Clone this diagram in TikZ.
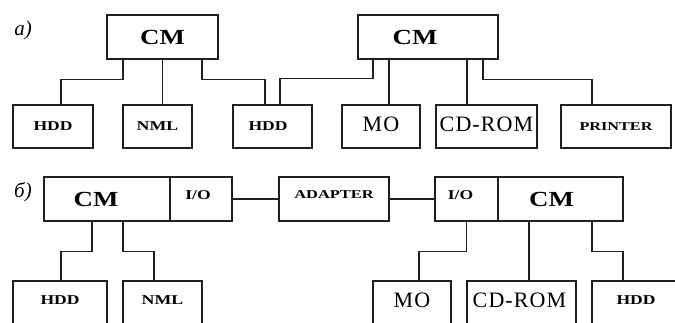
\documentclass[tikz,border=0pt]{standalone}
\usepackage{fontspec}
\setmainfont{Liberation Serif}
\usepackage{graphicx}
\newcommand{\bl}[3]{{\fontsize{#1}{#1}\selectfont\bfseries\scalebox{#2}[1]{#3}}}
\newcommand{\rg}[1]{{\fontsize{22}{22}\selectfont\addfontfeatures{LetterSpace=5}#1}}
\newcommand{\itl}[1]{{\fontsize{21}{21}\selectfont\itshape #1}}
\begin{document}
\begin{tikzpicture}[x=1pt,y=-1pt,
  box/.style={draw=black!88, line width=1.4pt, rectangle, inner sep=0pt, fill=white},
  wire/.style={draw=black!88, line width=1.4pt}]
\clip (0,0) rectangle (675,322);
\fill[white] (0,0) rectangle (675,322);
% part a
\node (la) at (23,30) {\itl{a)}};
\node[box, minimum width=111pt, minimum height=44pt] (cmA) at (162.5,37) {\bl{21.5}{1.25}{CM}};
\node[box, minimum width=140pt, minimum height=44pt] (cmB) at (428,37) {\bl{21.5}{1.25}{CM}\hspace*{26pt}};
\node[box, minimum width=80pt, minimum height=43pt] (hddA) at (53,126.5) {\bl{13.5}{1.3}{HDD}};
\node[box, minimum width=69pt, minimum height=43pt] (nmlA) at (157.5,126.5) {\bl{13.5}{1.32}{NML}};
\node[box, minimum width=79pt, minimum height=43pt] (hddB) at (272.5,126.5) {\bl{13.5}{1.3}{HDD}\hspace*{9pt}};
\node[box, minimum width=78pt, minimum height=43pt, text depth=4pt] (moA) at (381,126.5) {\rg{MO}};
\node[box, minimum width=101pt, minimum height=43pt, text depth=4pt] (cdA) at (486.5,126.5) {\rg{CD-ROM}};
\node[box, minimum width=110pt, minimum height=43pt] (prA) at (616,126.5) {\bl{12}{1.35}{PRINTER}};
% part b
\node (lb) at (23,192) {\itl{б)}};
\node[box, minimum width=126pt, minimum height=44pt] (cmC) at (107,199) {\bl{21.5}{1.25}{CM}\hspace*{22pt}};
\node[box, minimum width=62pt, minimum height=44pt, text depth=8pt] (ioC) at (201,199) {\bl{13.5}{1.3}{I/O}\hspace*{6pt}};
\node[box, minimum width=110pt, minimum height=44pt, text depth=9pt] (adC) at (334,199) {\bl{12}{1.37}{ADAPTER}};
\node[box, minimum width=63pt, minimum height=44pt, text depth=8pt] (ioD) at (466.5,199) {\bl{13.5}{1.3}{I/O}\hspace*{12pt}};
\node[box, minimum width=125pt, minimum height=44pt] (cmD) at (560.5,199) {\bl{21.5}{1.25}{CM}\hspace*{18pt}};
\node[box, minimum width=94pt, minimum height=44pt, text depth=6pt] (hddC) at (60,303) {\bl{13.5}{1.3}{HDD}};
\node[box, minimum width=79pt, minimum height=44pt, text depth=6pt] (nmlC) at (162.5,303) {\bl{13.5}{1.32}{NML}};
\node[box, minimum width=78pt, minimum height=44pt, text depth=6pt] (moD) at (412,303) {\rg{MO}};
\node[box, minimum width=109pt, minimum height=44pt, text depth=6pt] (cdD) at (521.5,303) {\rg{CD-ROM}\hspace*{4pt}};
\node[box, minimum width=88pt, minimum height=44pt, text depth=6pt] (hddD) at (636,303) {\bl{13.5}{1.3}{HDD}};
% connectors a
\draw[wire] ([xshift=-39.5pt]cmA.south) -- ++(0,20) -| ([xshift=8pt]hddA.north);
\draw[wire] (cmA.south) -- (cmA.south |- nmlA.north);
\draw[wire] ([xshift=39.5pt]cmA.south) -- ++(0,20) -| ([xshift=-7.5pt]hddB.north);
\draw[wire] ([xshift=7.5pt]hddB.north) -- ++(0,-26) -| ([xshift=-55pt]cmB.south);
\draw[wire] ([xshift=-39pt]cmB.south) -- ([xshift=-39pt]cmB.south |- moA.north);
\draw[wire] ([xshift=39pt]cmB.south) -- ([xshift=39pt]cmB.south |- cdA.north);
\draw[wire] ([xshift=55pt]cmB.south) -- ++(0,20) -| ([xshift=-24pt]prA.north);
% connectors b
\draw[wire] (ioC) -- (adC);
\draw[wire] (adC) -- (ioD);
\draw[wire] ([xshift=-15pt]cmC.south) -- ++(0,30) -| ([xshift=1pt]hddC.north);
\draw[wire] ([xshift=16pt]cmC.south) -- ++(0,30) -| ([xshift=-8.5pt]nmlC.north);
\draw[wire] (ioD.south) -- ++(0,30) -| ([xshift=7pt]moD.north);
\draw[wire] ([xshift=-31.5pt]cmD.south) -- ([xshift=-31.5pt]cmD.south |- cdD.north);
\draw[wire] ([xshift=31.5pt]cmD.south) -- ++(0,30) -| ([xshift=-13pt]hddD.north);
\end{tikzpicture}
\end{document}
